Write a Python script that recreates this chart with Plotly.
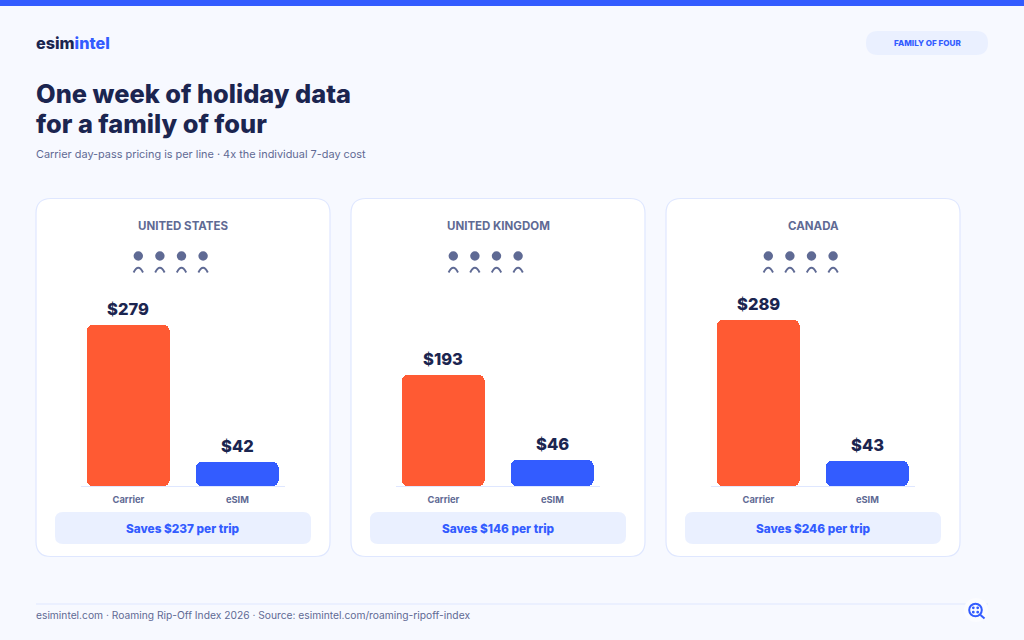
import plotly.graph_objects as go

W = 1024
H = 640
FONT = "Inter"
NAVY = "#1B2550"
BLUE = "#335CFF"
ORANGE = "#FF5A33"
GREY = "#5F6A94"
PALE = "#EAF0FF"
EDGE = "#DFE7FF"
BG = "#F7F9FF"

countries = ["UNITED STATES", "UNITED KINGDOM", "CANADA"]
plans = ["Carrier", "eSIM"]
carrier_costs = [279, 193, 289]
esim_costs = [42, 46, 43]
savings = [237, 146, 246]
title_lines = ["One week of holiday data", "for a family of four"]
subtitle = "Carrier day-pass pricing is per line · 4x the individual 7-day cost"
footer = "esimintel.com · Roaming Rip-Off Index 2026 · Source: esimintel.com/roaming-ripoff-index"


def px(x):
    return x / W


def py(y):
    return 1 - y / H


def rounded_rect(x0, y0, x1, y1, r):
    # path in pixel coordinates of the page, converted to paper
    pts = [
        ("M", x0 + r, y0), ("L", x1 - r, y0), ("Q", x1, y0, x1, y0 + r),
        ("L", x1, y1 - r), ("Q", x1, y1, x1 - r, y1),
        ("L", x0 + r, y1), ("Q", x0, y1, x0, y1 - r),
        ("L", x0, y0 + r), ("Q", x0, y0, x0 + r, y0),
    ]
    out = ""
    for p in pts:
        out += p[0]
        vals = p[1:]
        for i in range(0, len(vals), 2):
            out += f" {px(vals[i]):.5f},{py(vals[i + 1]):.5f} "
    return out + "Z"


def box(x0, y0, x1, y1, r, fill, line=None):
    return dict(type="path", xref="paper", yref="paper", path=rounded_rect(x0, y0, x1, y1, r),
                fillcolor=fill, line=dict(color=line or fill, width=1.2 if line else 0), layer="below")


def circle(cx, cy, r, fill, line=None, lw=0):
    return dict(type="circle", xref="paper", yref="paper", x0=px(cx - r), x1=px(cx + r), y0=py(cy + r), y1=py(cy - r),
                fillcolor=fill, line=dict(color=line or fill, width=lw), layer="below")


def label(x, y, text, size, color, weight=400, anchor="left"):
    # annotations carry about 2px of padding on the left
    if anchor == "left":
        x = x - 2
    return dict(xref="paper", yref="paper", x=px(x), y=py(y), text=text, showarrow=False, xanchor=anchor,
                yanchor="middle", font=dict(family=FONT, size=size, color=color, weight=weight))


fig = go.Figure()
shapes = []
notes = []

# page furniture
shapes.append(dict(type="rect", xref="paper", yref="paper", x0=0, x1=1, y0=py(6), y1=1, fillcolor=BLUE,
                   line=dict(width=0), layer="below"))
shapes.append(box(866, 31, 988, 55, 12, PALE))
shapes.append(dict(type="line", xref="paper", yref="paper", x0=px(36), x1=px(988), y0=py(604), y1=py(604),
                   line=dict(color=EDGE, width=1.2), layer="below"))
# magnifier logo
shapes.append(circle(976, 610, 12, "#FBFCFF"))
shapes.append(circle(975.5, 610, 6.3, "rgba(0,0,0,0)", BLUE, 2))
shapes.append(dict(type="line", xref="paper", yref="paper", x0=px(980.5), x1=px(984.5), y0=py(615), y1=py(618.5),
                   line=dict(color=BLUE, width=2), layer="below"))
for dx in [-2.2, 2.2]:
    for dy in [-2.2, 2.2]:
        shapes.append(circle(975.5 + dx, 610 + dy, 1.4, BLUE))

notes.append(label(36, 43, "esim<span style='color:%s'>intel</span>" % BLUE, 16.2, NAVY, 800))
notes.append(label(927, 43, "FAMILY OF FOUR", 8.1, BLUE, 800, "center"))
notes.append(label(36, 94, title_lines[0], 25.4, NAVY, 800))
notes.append(label(36, 124, title_lines[1], 25.4, NAVY, 800))
notes.append(label(36, 154, subtitle, 10.9, GREY))
notes.append(label(36, 615, footer, 10.25, GREY))

STEP = 315
layout_axes = {}
for i, country in enumerate(countries):
    off = i * STEP
    mid = 183 + off
    shapes.append(box(36 + off, 198.5, 330 + off, 556.5, 15, "#FFFFFF", EDGE))
    shapes.append(box(55 + off, 512, 311 + off, 544, 8, PALE))
    notes.append(label(mid, 226, country, 11.5, GREY, 700, "center"))
    notes.append(label(mid, 528.5, f"Saves ${savings[i]} per trip", 11.8, BLUE, 800, "center"))

    # the four little people
    for k in range(4):
        cx = 138.3 + off + k * 21.6
        shapes.append(circle(cx, 256, 4.7, GREY))
        arc = f"M {px(cx - 4.7):.5f},{py(272.5):.5f} Q {px(cx):.5f},{py(263):.5f} {px(cx + 4.7):.5f},{py(272.5):.5f}"
        shapes.append(dict(type="path", xref="paper", yref="paper", path=arc, fillcolor="rgba(0,0,0,0)",
                           line=dict(color=GREY, width=1.9), layer="below"))

    sfx = "" if i == 0 else str(i + 1)
    values = [carrier_costs[i], esim_costs[i]]
    colors = [ORANGE, BLUE]
    # giving a base makes plotly round both ends of the bar
    fig.add_trace(go.Bar(x=plans, y=values, base=[0, 0], width=0.761,
                         marker=dict(color=colors, cornerradius=6, line=dict(width=0)),
                         xaxis="x" + sfx, yaxis="y" + sfx, showlegend=False, hoverinfo="skip"))
    for plan, v in zip(plans, values):
        notes.append(dict(xref="x" + sfx, yref="y" + sfx, x=plan, y=v, text=f"${v}", showarrow=False, yanchor="bottom",
                          yshift=4, font=dict(family=FONT, size=16.5, color=NAVY, weight=800)))

    layout_axes["xaxis" + sfx] = dict(domain=[px(80.7 + off), px(285.2 + off)], range=[-0.438, 1.438], type="category",
                                      categoryorder="array", categoryarray=plans, showgrid=False, zeroline=False,
                                      showline=True, linecolor=EDGE, linewidth=1.2, ticks="", ticklabelstandoff=5,
                                      tickfont=dict(family=FONT, size=9.3, color=GREY, weight=700),
                                      anchor="y" + sfx, fixedrange=True)
    layout_axes["yaxis" + sfx] = dict(domain=[py(486), py(300)], range=[0, 186 / 0.576], visible=False,
                                      anchor="x" + sfx, fixedrange=True)

fig.update_layout(width=W, height=H, margin=dict(l=0, r=0, t=0, b=0), autosize=False, bargap=0,
                  paper_bgcolor=BG, plot_bgcolor="rgba(0,0,0,0)", shapes=shapes, annotations=notes,
                  showlegend=False, **layout_axes)

fig.write_html("out.html", config=dict(displayModeBar=False),
               post_script="document.body.style.margin='0';document.body.style.overflow='hidden';")
